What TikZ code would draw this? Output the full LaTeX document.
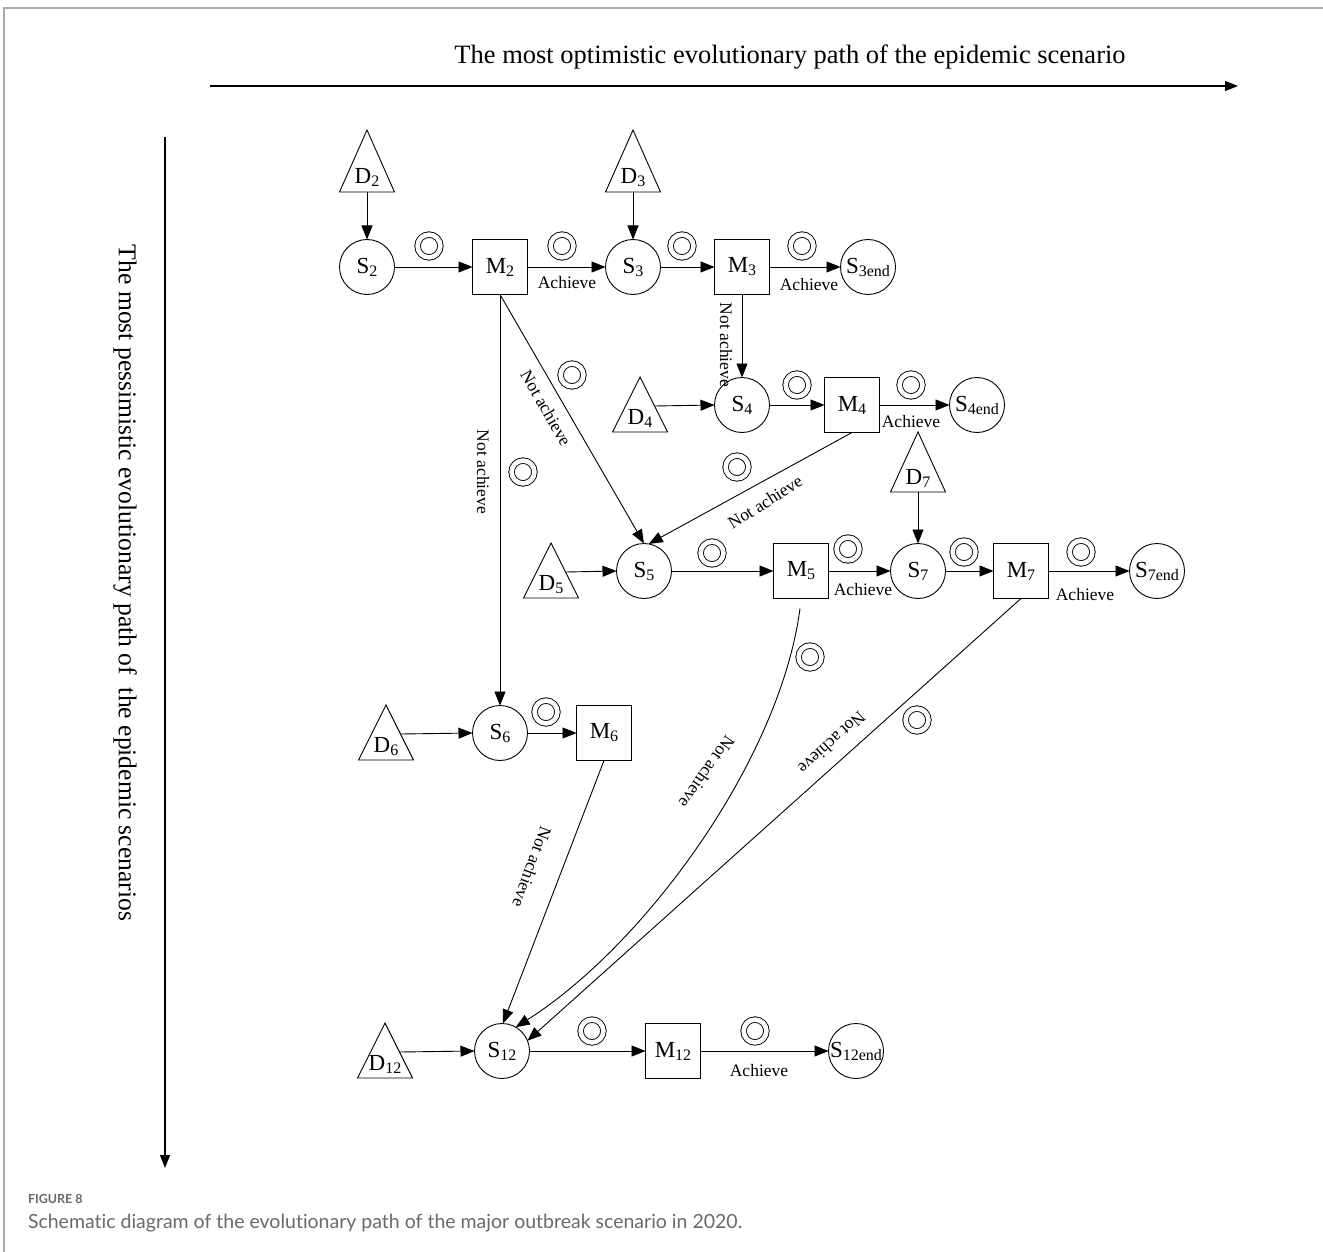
\documentclass[tikz,border=0pt]{standalone}
\usepackage{fontspec}
\setmainfont{Liberation Serif}
\newfontfamily\capfont[Ligatures=NoCommon]{Lato}
\usetikzlibrary{arrows.meta,calc}
\definecolor{capgray}{RGB}{105,105,105}
\definecolor{framegray}{RGB}{170,170,170}
% lowered subscript used in the state and measure labels
\newcommand\sbs[1]{\raisebox{-3pt}{\fontsize{16}{16}\selectfont #1}}

\begin{document}
\begin{tikzpicture}[x=1pt,y=-1pt,
  every node/.style={inner sep=0pt, outer sep=0pt},
  st/.style={circle, draw, line width=0.9pt, minimum size=55pt, font=\fontsize{23}{26}\selectfont},
  mt/.style={rectangle, draw, line width=0.9pt, minimum size=55pt, font=\fontsize{23}{26}\selectfont},
  dt/.style={anchor=base, font=\fontsize{23}{26}\selectfont},
  tri/.style={draw, line width=0.9pt, line join=miter},
  ring/.style={circle, draw, double, double distance=4.6pt, line width=0.9pt, minimum size=22.8pt},
  lab/.style={font=\fontsize{17.5}{20}\selectfont},
  arr/.style={-{Triangle[length=14pt,width=11pt]}, line width=0.9pt},
  axis/.style={-{Triangle[length=13pt,width=10pt]}, line width=1.1pt},
]
\useasboundingbox (0,0) rectangle (1323,1252);

% page frame
\draw[framegray, line width=1.6pt] (4,1252) -- (4,8) -- (1323,8);

% axes
\node[font=\fontsize{26.5}{30}\selectfont] (ttl) at (790,57) {The most optimistic evolutionary path of the epidemic scenario};
\coordinate (hx0) at (210,86);
\coordinate (hx1) at (1238,86);
\draw[axis] (hx0) -- (hx1);
\node[font=\fontsize{25.6}{30}\selectfont, rotate=-90] (vt) at (125,583) {The most pessimistic evolutionary path of\ \ the epidemic scenarios};
\coordinate (vy0) at (165,137);
\coordinate (vy1) at (165,1168);
\draw[axis] (vy0) -- (vy1);

% disturbance triangles
\draw[tri] (339.5,192) -- (367,130) -- (394.5,192) -- cycle;
\node[dt] (D2) at (367,184) {D\sbs{2}};
\coordinate (d2b) at (367,192);
\draw[tri] (605.5,192) -- (633,130) -- (660.5,192) -- cycle;
\node[dt] (D3) at (633,184) {D\sbs{3}};
\coordinate (d3b) at (633,192);
\draw[tri] (612.5,432) -- (640,377) -- (667.5,432) -- cycle;
\node[dt] (D4) at (640,424) {D\sbs{4}};
\coordinate (d4r) at (654.5,406);
\draw[tri] (523.5,598) -- (551,543) -- (578.5,598) -- cycle;
\node[dt] (D5) at (551,590) {D\sbs{5}};
\coordinate (d5r) at (566,572);
\draw[tri] (890.5,492) -- (918,432) -- (945.5,492) -- cycle;
\node[dt] (D7) at (918,484) {D\sbs{7}};
\coordinate (d7b) at (918,492);
\draw[tri] (358.5,760) -- (386,705) -- (413.5,760) -- cycle;
\node[dt] (D6) at (386,752) {D\sbs{6}};
\coordinate (d6r) at (401,734);
\draw[tri] (357.5,1078) -- (385,1023) -- (412.5,1078) -- cycle;
\node[dt] (D12) at (385,1070) {D\sbs{12}};
\coordinate (d12r) at (400,1052);

% states and measures
\node[st] (S2) at (367,267) {S\sbs{2}};
\node[mt] (M2) at (500,267) {M\sbs{2}};
\node[st] (S3) at (633,267) {S\sbs{3}};
\node[mt] (M3) at (742,267) {M\sbs{3}};
\node[st] (S3end) at (868,267) {S\sbs{3end}};
\node[st] (S4) at (742,405) {S\sbs{4}};
\node[mt] (M4) at (852,405) {M\sbs{4}};
\node[st] (S4end) at (977,405) {S\sbs{4end}};
\node[st] (S5) at (644,571) {S\sbs{5}};
\node[mt] (M5) at (801,571) {M\sbs{5}};
\node[st] (S7) at (918,571) {S\sbs{7}};
\node[mt] (M7) at (1021,571) {M\sbs{7}};
\node[st] (S7end) at (1157,571) {S\sbs{7end}};
\node[st] (S6) at (500,733) {S\sbs{6}};
\node[mt] (M6) at (604,733) {M\sbs{6}};
\node[st] (S12) at (502,1051) {S\sbs{12}};
\node[mt] (M12) at (673,1051) {M\sbs{12}};
\node[st] (S12end) at (856,1051) {S\sbs{12end}};
\coordinate (m5s) at ($(M5.south)+(-1,10)$);

% transitions
\draw[arr] (d2b) -- (S2.north);
\draw[arr] (S2) -- (M2);
\draw[arr] (M2) -- (S3);
\draw[arr] (d3b) -- (S3.north);
\draw[arr] (S3) -- (M3);
\draw[arr] (M3) -- (S3end);
\draw[arr] (M3) -- (S4);
\draw[arr] (d4r) -- (S4.west);
\draw[arr] (S4) -- (M4);
\draw[arr] (M4) -- (S4end);
\draw[arr] (M4.south) -- (S5.80);
\draw[arr] (M2.south) -- (S5.north);
\draw[arr] (M2.south) -- (S6.north);
\draw[arr] (d5r) -- (S5.west);
\draw[arr] (S5) -- (M5);
\draw[arr] (M5) -- (S7);
\draw[arr] (d7b) -- (S7.north);
\draw[arr] (S7) -- (M7);
\draw[arr] (M7) -- (S7end);
\draw[arr] (d6r) -- (S6.west);
\draw[arr] (S6) -- (M6);
\draw[arr] (M6.south) -- (S12.88);
\draw[arr] (m5s) .. controls (780,760) and (645,945) .. (S12.60);
\draw[arr] (M7.south) -- (S12.22);
\draw[arr] (d12r) -- (S12.west);
\draw[arr] (S12) -- (M12);
\draw[arr] (M12) -- (S12end);

% double-ring markers
\node[ring] (r1) at (429,246) {};
\node[ring] (r2) at (562,246) {};
\node[ring] (r3) at (682,246) {};
\node[ring] (r4) at (802,246) {};
\node[ring] (r5) at (797,385) {};
\node[ring] (r6) at (911,385) {};
\node[ring] (r7) at (572,375) {};
\node[ring] (r8) at (523,472) {};
\node[ring] (r9) at (737,467) {};
\node[ring] (r10) at (712,553) {};
\node[ring] (r11) at (848,549) {};
\node[ring] (r12) at (964,552) {};
\node[ring] (r13) at (1081,552) {};
\node[ring] (r14) at (546,712) {};
\node[ring] (r15) at (810,657) {};
\node[ring] (r16) at (917,720) {};
\node[ring] (r17) at (592,1031) {};
\node[ring] (r18) at (755,1031) {};

% transition labels
\node[lab] (a1) at (567,283) {Achieve};
\node[lab] (a2) at (809,285) {Achieve};
\node[lab] (a3) at (911,422) {Achieve};
\node[lab] (a4) at (863,590) {Achieve};
\node[lab] (a5) at (1085,595) {Achieve};
\node[lab] (a6) at (759,1071) {Achieve};
\node[lab, rotate=-90] (n1) at (726,345) {Not achieve};
\node[lab, rotate=-60] (n2) at (546,408) {Not achieve};
\node[lab, rotate=-90] (n3) at (483,472) {Not achieve};
\node[lab, rotate=32] (n4) at (765,502) {Not achieve};
\node[lab, rotate=-110] (n5) at (532,867) {Not achieve};
\node[lab, rotate=-125] (n6) at (707,772) {Not achieve};
\node[lab, rotate=-137.5] (n7) at (832,743) {Not achieve};

% caption
\node[anchor=base west, font=\capfont\bfseries\fontsize{12.5}{14}\selectfont, text=capgray] (fig) at (28,1203) {FIGURE 8};
\node[anchor=base west, font=\capfont\fontsize{19.5}{22}\selectfont, text=capgray] (cap) at (28,1228) {Schematic diagram of the evolutionary path of the major outbreak scenario in 2020.};
\end{tikzpicture}
\end{document}
